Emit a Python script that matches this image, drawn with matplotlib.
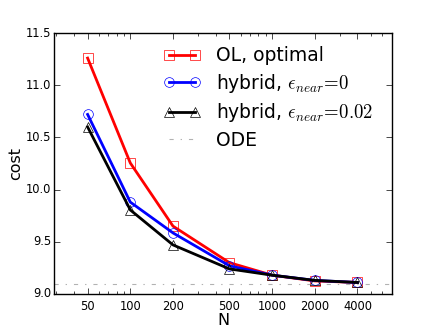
import numpy as np
import matplotlib.pyplot as plt

plt.style.use('classic')

# data
N = [50, 100, 200, 500, 1000, 2000, 4000]
cost_ol = [11.26, 10.255, 9.65, 9.30, 9.18, 9.125, 9.11]
cost_hyb0 = [10.72, 9.88, 9.585, 9.27, 9.18, 9.13, 9.11]
cost_hyb002 = [10.60, 9.805, 9.47, 9.24, 9.18, 9.13, 9.11]
cost_ode = 9.1
xticks = [50, 100, 200, 500, 1000, 2000, 4000]

fig = plt.figure(figsize=(4.36, 3.27), dpi=100)
ax = fig.add_axes([0.124, 0.101, 0.775, 0.798])

ax.plot(N, cost_ol, '-s', color='red', lw=2, mec='red', mfc='none', ms=7,
        label='OL, optimal')
ax.plot(N, cost_hyb0, '-o', color='blue', lw=2, mec='blue', mfc='none', ms=7,
        label=r'hybrid, $\epsilon_{near}\!=\!0$')
ax.plot(N, cost_hyb002, '-^', color='black', lw=2, mec='black', mfc='none', ms=7,
        label=r'hybrid, $\epsilon_{near}\!=\!0.02$')
ax.axhline(cost_ode, color='gray', ls='-.', lw=0.8, alpha=0.6, label='ODE')

ax.set_xscale('log')
ax.set_xlim(29, 7000)
ax.set_ylim(9.0, 11.5)
ax.set_xticks(xticks)
ax.set_xticklabels([str(v) for v in xticks])
ax.set_yticks([9.0, 9.5, 10.0, 10.5, 11.0, 11.5])
ax.tick_params(labelsize=8.3)
ax.tick_params(axis='y', pad=2)
ax.set_xlabel('N', fontsize=11.5, labelpad=0)
ax.set_ylabel('cost', fontsize=11.5, labelpad=2)

ax.legend(loc='upper right', bbox_to_anchor=(0.982, 1.0), frameon=False,
          numpoints=2, fontsize=13.5, handlelength=2.0, handletextpad=0.8,
          labelspacing=0.35, borderaxespad=0.3)

fig.savefig('out.png', dpi=100)
